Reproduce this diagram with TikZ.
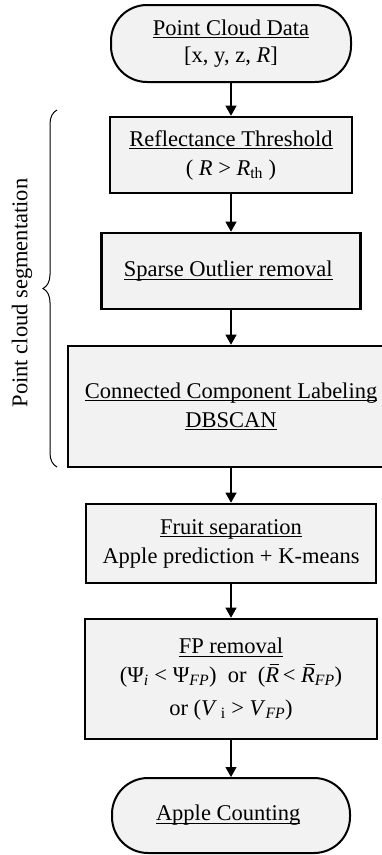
\documentclass[tikz,border=0pt]{standalone}
\usepackage{fontspec}
\setmainfont{Liberation Serif}
\usetikzlibrary{arrows.meta,decorations.pathreplacing}

\definecolor{boxgray}{RGB}{242,242,242}
\newcommand{\lowtxt}[1]{\textsubscript{#1}}
\newsavebox{\ulbox}
\newcommand{\uln}[1]{\sbox{\ulbox}{#1}\rlap{\rule[-3pt]{\wd\ulbox}{0.9pt}}\usebox{\ulbox}}
\newcommand{\barR}{\textit{\rlap{\hspace{0.2em}\rule[0.76em]{0.42em}{0.06em}}R}}

\begin{document}
\begin{tikzpicture}[x=1pt,y=-1pt,
  every node/.style={font=\fontsize{22.5}{29}\selectfont, align=center},
  stepbox/.style={draw, line width=2.6pt, fill=boxgray, inner sep=0pt},
  terminal/.style={draw, line width=2pt, fill=boxgray, rounded corners=36pt, inner sep=0pt},
  flow/.style={line width=1.2pt, -{Triangle[width=11pt,length=10pt]}}]
  \useasboundingbox (0,0) rectangle (382,855);

  \node[terminal, minimum width=240pt, minimum height=77pt] (data) at (231,43.5)
    { \uln{Point Cloud Data}\\[-2pt]{}[x, y, z, \textit{R}] };
  \node[stepbox, minimum width=242pt, minimum height=76pt] (refl) at (231,155)
    { \uln{Reflectance Threshold}\\( \textit{R} > \textit{R}\lowtxt{th} ) };
  \node[stepbox, minimum width=259pt, minimum height=76pt] (sparse) at (231,271)
    { \uln{Sparse Outlier removal} };
  \node[stepbox, minimum width=326pt, minimum height=121pt] (ccl) at (231,406.5)
    { \uln{Connected Component Labeling}\\\uln{DBSCAN} };
  \node[stepbox, minimum width=290pt, minimum height=79pt] (fruit) at (231,543.5)
    { \uln{Fruit separation}\\Apple prediction + K-means };
  \node[stepbox, minimum width=292pt, minimum height=120pt] (fp) at (231,679)
    { \uln{FP removal}\\
      (Ψ\lowtxt{\textit{i}} < Ψ\lowtxt{\textit{FP}})\ \ or\ \ (\barR\,< \barR\lowtxt{\textit{FP}})\\[4pt]
      or (\textit{V}\,\lowtxt{i} > \textit{V}\lowtxt{\textit{FP}}) };
  \node[terminal, minimum width=238pt, minimum height=75pt] (count) at (231,815.5)
    { \uln{Apple Counting} };

  \draw[flow] (data) -- (refl);
  \draw[flow] (refl) -- (sparse);
  \draw[flow] (sparse) -- (ccl);
  \draw[flow] (ccl) -- (fruit);
  \draw[flow] (fruit) -- (fp);
  \draw[flow] (fp) -- (count);

  % segmentation stage
  \coordinate (segtop) at (57,110);
  \coordinate (segbot) at (57,467);
  \draw[line width=1pt, decorate, decoration={brace, amplitude=14pt}] (segbot) -- (segtop);
  \node[rotate=90] (seglabel) at (22,293) {Point cloud segmentation};
\end{tikzpicture}
\end{document}
